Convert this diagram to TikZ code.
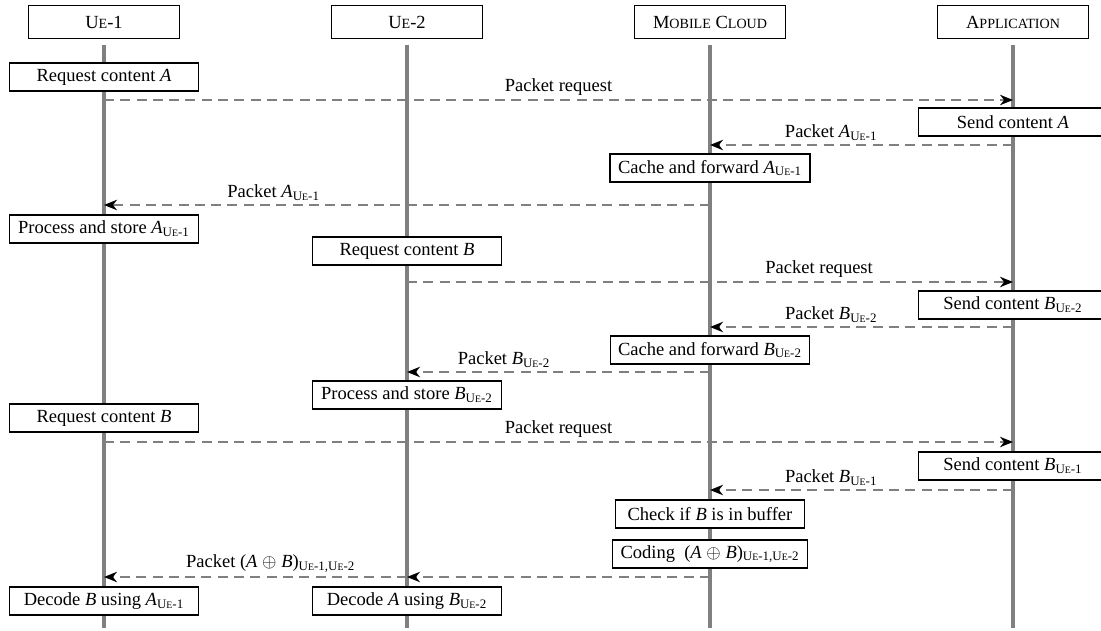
\documentclass[tikz,border=0pt]{standalone}
\usepackage{amsmath}
\usepackage{fontspec}
\setmainfont{Liberation Serif}
\usetikzlibrary{arrows.meta}
\newcommand{\fsc}[1]{\scalebox{0.76}{#1}}
\newcommand{\ue}[1]{U\fsc{E}-#1}
\newcommand{\ix}[1]{$_{\text{#1}}$}

\begin{document}
\begin{tikzpicture}[x=0.54pt,y=-0.54pt,
  >={Stealth[length=7pt,width=5.6pt,inset=2.2pt,color=black]},
  actor/.style={draw,fill=white,line width=0.6pt,minimum width=81.5pt,minimum height=17.8pt,inner sep=0pt},
  action/.style={draw,fill=white,line width=0.6pt,minimum width=102pt,minimum height=15.1pt,inner xsep=4.3pt,inner ysep=0pt},
  life/.style={gray,line width=1.7pt},
  msg/.style={->,gray,line width=1.1pt,dash pattern=on 5.4pt off 3.4pt},
  lbl/.style={above,text=black,inner sep=2pt}]
\useasboundingbox (0,0) rectangle (1101,631);
% actors
\node[actor] (ue1) at (104,22) {\ue{1}};
\node[actor] (ue2) at (407,22) {\ue{2}};
\node[actor] (cloud) at (710,22) {M\fsc{OBILE} C\fsc{LOUD}};
\node[actor] (app) at (1013,22) {A\fsc{PPLICATION}};
\coordinate (bot) at (0,628);
\foreach \n in {ue1,ue2,cloud,app}
  \draw[life] ([yshift=-3.2pt]\n.south) -- (\n |- bot);
% message rows
\coordinate (r1) at (0,100);
\coordinate (r2) at (0,145);
\coordinate (r3) at (0,205);
\coordinate (r4) at (0,282);
\coordinate (r5) at (0,327);
\coordinate (r6) at (0,372);
\coordinate (r7) at (0,442);
\coordinate (r8) at (0,490);
\coordinate (r9) at (0,577);
% content A for UE-1
\node[action] (reqA) at (104,77) {Request content \textit{A}};
\draw[msg] (ue1 |- r1) -- (app |- r1) node[lbl,pos=0.5] {Packet request};
\node[action] (sendA) at (1013,122) {Send content \textit{A}};
\draw[msg] (app |- r2) -- (cloud |- r2) node[lbl,pos=0.6] {Packet \textit{A}\ix{\ue{1}}};
\node[action] (cacheA) at (710,168) {Cache and forward \textit{A}\ix{\ue{1}}};
\draw[msg] (cloud |- r3) -- (ue1 |- r3) node[lbl,pos=0.72] {Packet \textit{A}\ix{\ue{1}}};
\node[action] (procA) at (104,229) {Process and store \textit{A}\ix{\ue{1}}};
% content B for UE-2
\node[action] (reqB2) at (407,251) {Request content \textit{B}};
\draw[msg] (ue2 |- r4) -- (app |- r4) node[lbl,pos=0.68] {Packet request};
\node[action] (sendB2) at (1013,305) {Send content \textit{B}\ix{\ue{2}}};
\draw[msg] (app |- r5) -- (cloud |- r5) node[lbl,pos=0.6] {Packet \textit{B}\ix{\ue{2}}};
\node[action] (cacheB) at (710,350) {Cache and forward \textit{B}\ix{\ue{2}}};
\draw[msg] (cloud |- r6) -- (ue2 |- r6) node[lbl,pos=0.68] {Packet \textit{B}\ix{\ue{2}}};
\node[action] (procB) at (407,395) {Process and store \textit{B}\ix{\ue{2}}};
% content B for UE-1, coded
\node[action] (reqB1) at (104,418) {Request content \textit{B}};
\draw[msg] (ue1 |- r7) -- (app |- r7) node[lbl,pos=0.5] {Packet request};
\node[action] (sendB1) at (1013,466) {Send content \textit{B}\ix{\ue{1}}};
\draw[msg] (app |- r8) -- (cloud |- r8) node[lbl,pos=0.6] {Packet \textit{B}\ix{\ue{1}}};
\node[action] (check) at (710,514) {Check if \textit{B} is in buffer};
\node[action] (coding) at (710,554) {Coding~ (\textit{A} $\oplus$ \textit{B})\ix{\ue{1},\ue{2}}};
\draw[msg] (cloud |- r9) -- (ue2 |- r9);
\draw[msg] (ue2 |- r9) -- (ue1 |- r9) node[lbl,pos=0.45] {Packet (\textit{A} $\oplus$ \textit{B})\ix{\ue{1},\ue{2}}};
\node[action] (decB) at (104,601) {Decode \textit{B} using \textit{A}\ix{\ue{1}}};
\node[action] (decA) at (407,601) {Decode \textit{A} using \textit{B}\ix{\ue{2}}};
\end{tikzpicture}
\end{document}
